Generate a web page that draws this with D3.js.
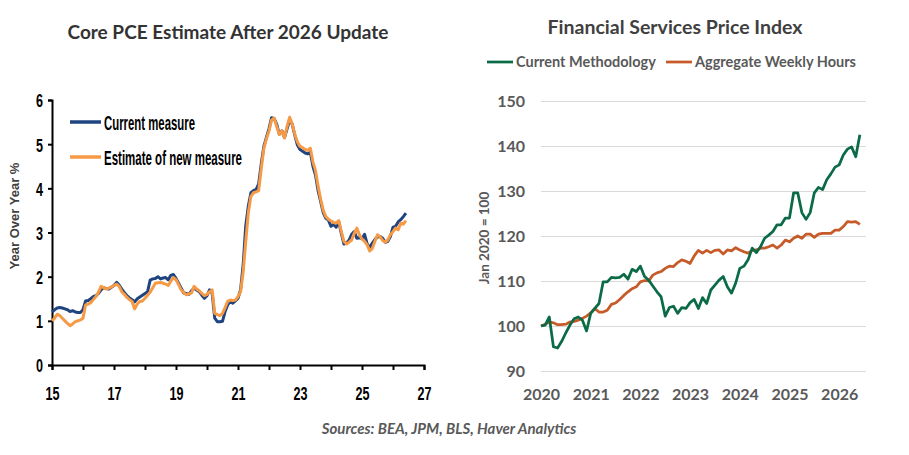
<!DOCTYPE html>
<html>
<head>
<meta charset="utf-8">
<script src="https://cdn.jsdelivr.net/npm/d3@7.9.0/dist/d3.min.js"></script>
<style>
  body { margin: 0; background: #fff; }
  svg { display: block; }
  .narrow { font-family: "Liberation Sans", Arial, sans-serif; font-weight: bold; }
  .calib { font-family: Lato, "Open Sans", sans-serif; font-weight: bold; }
</style>
</head>
<body>
<svg id="chart" width="909" height="455"></svg>
<script>
// Left panel: core PCE y/y %, monthly from Jan 2015
const pceStartYear = 15;
const pceCurrent = [
  1.20, 1.25, 1.29, 1.30, 1.29, 1.27, 1.25, 1.21, 1.23, 1.20, 1.19, 1.19,
  1.25, 1.45, 1.46, 1.50, 1.55, 1.57, 1.62, 1.70, 1.75, 1.73, 1.72, 1.76,
  1.80, 1.87, 1.81, 1.72, 1.64, 1.57, 1.52, 1.48, 1.43, 1.50, 1.54, 1.58,
  1.62, 1.66, 1.92, 1.95, 1.96, 2.00, 1.95, 1.97, 1.98, 1.93, 2.03, 2.05,
  1.96, 1.85, 1.74, 1.63, 1.62, 1.60, 1.68, 1.74, 1.70, 1.66, 1.58, 1.51,
  1.57, 1.70, 1.62, 1.06, 0.98, 0.98, 0.99, 1.21, 1.36, 1.44, 1.40, 1.45,
  1.51, 1.70, 2.27, 3.15, 3.60, 3.90, 3.95, 3.97, 4.10, 4.55, 4.95, 5.15,
  5.35, 5.60, 5.58, 5.45, 5.22, 5.30, 5.15, 5.35, 5.55, 5.45, 5.20, 4.98,
  4.88, 4.84, 4.80, 4.78, 4.82, 4.50, 4.30, 3.95, 3.70, 3.45, 3.32, 3.28,
  3.14, 3.18, 3.12, 3.24, 2.98, 2.74, 2.76, 2.83, 2.96, 3.02, 2.87, 2.88,
  2.86, 2.96, 2.74, 2.66, 2.76, 2.84, 2.90, 2.91, 2.87, 2.78, 2.80, 2.91,
  3.12, 3.14, 3.24, 3.29, 3.36, 3.44
];
const pceNew = [
  1.00, 1.06, 1.15, 1.12, 1.06, 1.00, 0.94, 0.89, 0.93, 0.98, 1.00, 1.02,
  1.06, 1.36, 1.38, 1.41, 1.48, 1.55, 1.65, 1.78, 1.75, 1.72, 1.74, 1.77,
  1.80, 1.83, 1.78, 1.66, 1.60, 1.53, 1.48, 1.44, 1.27, 1.38, 1.44, 1.45,
  1.51, 1.58, 1.65, 1.75, 1.85, 1.86, 1.87, 1.85, 1.83, 1.80, 1.90, 1.98,
  1.93, 1.82, 1.70, 1.64, 1.59, 1.61, 1.63, 1.78, 1.72, 1.68, 1.62, 1.57,
  1.60, 1.66, 1.70, 1.17, 1.14, 1.12, 1.17, 1.30, 1.44, 1.47, 1.46, 1.47,
  1.55, 1.66, 2.10, 2.80, 3.45, 3.82, 3.90, 3.92, 3.95, 4.45, 4.90, 5.12,
  5.30, 5.55, 5.59, 5.40, 5.22, 5.30, 5.14, 5.40, 5.61, 5.45, 5.22, 5.05,
  4.95, 4.92, 4.88, 4.86, 4.91, 4.60, 4.40, 4.05, 3.75, 3.50, 3.36, 3.30,
  3.26, 3.23, 3.21, 3.27, 3.02, 2.80, 2.74, 2.78, 2.83, 2.98, 3.10, 2.95,
  2.85, 2.80, 2.72, 2.58, 2.64, 2.80, 2.95, 2.90, 2.82, 2.78, 2.83, 2.95,
  3.02, 3.10, 3.06, 3.21, 3.19, 3.27
];
const pceYTicks = [0, 1, 2, 3, 4, 5, 6];
const pceXTicks = [15, 16, 17, 18, 19, 20, 21, 22, 23, 24, 25, 26, 27];
const pceXLabels = [15, 17, 19, 21, 23, 25, 27];
const pceSeries = ["Current measure", "Estimate of new measure"];

// Right panel: financial services price index, monthly from Jan 2020
const finStartYear = 2020;
const finCurrent = [
  100.0, 100.2, 102.0, 95.4, 95.1, 96.6, 98.5, 100.2, 101.6, 102.0, 101.3, 98.9,
  102.8, 103.9, 105.0, 109.8, 109.8, 110.8, 110.7, 110.8, 111.5, 110.4, 112.6, 112.1,
  113.3, 111.0, 110.2, 108.9, 107.6, 106.5, 102.2, 104.1, 104.4, 102.8, 104.1, 103.9,
  105.2, 105.9, 103.9, 106.3, 105.0, 108.0, 109.1, 110.2, 111.0, 108.7, 107.3, 109.5,
  112.8, 113.3, 114.7, 117.3, 116.3, 117.6, 119.5, 120.2, 121.0, 122.5, 122.5, 124.0,
  124.0, 129.6, 129.6, 125.2, 123.7, 125.2, 129.6, 130.8, 130.3, 132.5, 133.8, 135.3,
  135.8, 138.0, 139.3, 139.8, 137.6, 142.5
];
const finHours = [
  100.0, 100.4, 100.9, 100.7, 100.3, 100.3, 100.4, 100.9, 101.0, 101.3, 101.7, 102.2,
  102.9, 103.9, 103.1, 103.1, 103.5, 104.8, 105.1, 105.9, 106.8, 107.6, 108.3, 108.7,
  109.8, 110.1, 110.0, 111.3, 111.8, 112.1, 112.8, 113.3, 113.2, 114.1, 114.7, 114.4,
  113.9, 115.6, 116.8, 116.2, 116.8, 116.3, 116.8, 116.9, 116.0, 116.9, 116.7, 117.4,
  116.9, 116.5, 116.2, 116.8, 116.9, 117.3, 117.3, 117.6, 118.0, 117.3, 118.0, 119.1,
  118.7, 119.5, 120.0, 119.5, 120.4, 120.4, 119.7, 120.4, 120.6, 120.6, 120.6, 121.3,
  121.3, 122.1, 123.2, 123.1, 123.2, 122.6
];
const finYTicks = [90, 100, 110, 120, 130, 140, 150];
const finXTicks = [2020, 2021, 2022, 2023, 2024, 2025, 2026];
const finSeries = ["Current Methodology", "Aggregate Weekly Hours"];

const svg = d3.select("#chart");
svg.append("rect").attr("width", 909).attr("height", 455).attr("fill", "#fff");

// squeeze Arial-like text to look like Arial Narrow
function narrowText(sel, perChar) {
  sel.each(function () {
    const t = d3.select(this);
    const n = t.text().length;
    if (n) t.attr("textLength", n * perChar).attr("lengthAdjust", "spacingAndGlyphs");
  });
}

// ---------- left panel ----------
const lx = d3.scaleLinear().domain([15, 27]).range([52, 424]);
const ly = d3.scaleLinear().domain([0, 6]).range([365, 100]);
const left = svg.append("g");

left.append("text").attr("class", "calib")
  .attr("x", 228).attr("y", 39).attr("text-anchor", "middle")
  .attr("font-size", 19).attr("fill", "#333")
  .text("Core PCE Estimate After 2026 Update");

const lyAxis = left.append("g").attr("transform", "translate(52,0)")
  .call(d3.axisLeft(ly).tickValues(pceYTicks).tickSize(4).tickPadding(5).tickFormat(d3.format("d")));
const lxAxis = left.append("g").attr("transform", "translate(0,365)")
  .call(d3.axisBottom(lx).tickValues(pceXTicks).tickSize(5).tickPadding(17)
    .tickFormat(d => pceXLabels.includes(d) ? d : ""));
[lyAxis, lxAxis].forEach(a => {
  a.selectAll("path, line").attr("stroke", "#000").attr("stroke-width", 2);
  a.selectAll("text").attr("class", "narrow").attr("font-size", 19).attr("fill", "#000")
    .call(narrowText, 7);
});
lyAxis.selectAll("text").attr("dy", "0.36em");

left.append("text")
  .attr("transform", "translate(19,216) rotate(-90)")
  .attr("text-anchor", "middle").attr("font-size", 13).attr("fill", "#404040")
  .attr("font-family", "Liberation Sans, Arial, sans-serif").attr("font-weight", "bold")
  .text("Year Over Year %");

const pceLine = d3.line()
  .x((d, i) => lx(pceStartYear + i / 12))
  .y(d => ly(d));
const pceColors = ["#1f4480", "#f79a45"];
[pceCurrent, pceNew].forEach((s, k) => {
  left.append("path").datum(s).attr("d", pceLine)
    .attr("fill", "none").attr("stroke", pceColors[k])
    .attr("stroke-width", 3).attr("stroke-linejoin", "round");
});

const pceLegendWidth = [91, 138];
pceSeries.forEach((name, k) => {
  const yy = 122 + k * 35;
  left.append("line").attr("x1", 70).attr("x2", 101).attr("y1", yy).attr("y2", yy)
    .attr("stroke", pceColors[k]).attr("stroke-width", 3.5);
  left.append("text").attr("class", "narrow")
    .attr("x", 104).attr("y", yy + 8).attr("font-size", 21).attr("fill", "#000")
    .attr("textLength", pceLegendWidth[k]).attr("lengthAdjust", "spacingAndGlyphs")
    .text(name);
});

// ---------- right panel ----------
const rx = d3.scaleLinear().domain([2020, 2026.54]).range([541, 866]);
const ry = d3.scaleLinear().domain([90, 150]).range([371, 101]);
const right = svg.append("g");

right.append("text").attr("class", "calib")
  .attr("x", 675).attr("y", 34).attr("text-anchor", "middle")
  .attr("font-size", 19.5).attr("fill", "#404040")
  .text("Financial Services Price Index");

const ryAxis = right.append("g").attr("transform", "translate(541,0)")
  .call(d3.axisLeft(ry).tickValues(finYTicks).tickSize(-325).tickPadding(16));
ryAxis.select(".domain").remove();
ryAxis.selectAll("line").attr("stroke", "#d9d9d9").attr("stroke-width", 1);
ryAxis.selectAll("text").attr("class", "calib").attr("font-size", 16).attr("fill", "#595959");

const rxAxis = right.append("g").attr("transform", "translate(0,383)")
  .call(d3.axisBottom(rx).tickValues(finXTicks).tickSize(0).tickPadding(6).tickFormat(d3.format("d")));
rxAxis.select(".domain").remove();
rxAxis.selectAll("text").attr("class", "calib").attr("font-size", 16).attr("fill", "#595959");

right.append("text").attr("class", "calib")
  .attr("transform", "translate(489,238) rotate(-90)")
  .attr("text-anchor", "middle").attr("font-size", 13.5).attr("fill", "#595959")
  .text("Jan 2020 = 100");

const finLine = d3.line()
  .x((d, i) => rx(finStartYear + i / 12))
  .y(d => ry(d));
const finColors = ["#0b6b47", "#c65a28"];
[finHours, finCurrent].forEach((s, k) => {
  right.append("path").datum(s).attr("d", finLine)
    .attr("fill", "none").attr("stroke", finColors[1 - k])
    .attr("stroke-width", 2.75).attr("stroke-linejoin", "round");
});

const legX = [487, 666];
finSeries.forEach((name, k) => {
  right.append("line").attr("x1", legX[k]).attr("x2", legX[k] + 26).attr("y1", 62).attr("y2", 62)
    .attr("stroke", finColors[k]).attr("stroke-width", 2.75);
  right.append("text").attr("class", "calib")
    .attr("x", legX[k] + 29).attr("y", 66.5).attr("font-size", 14.5).attr("fill", "#595959")
    .text(name);
});

// sources
svg.append("text").attr("class", "calib")
  .attr("x", 449).attr("y", 434).attr("text-anchor", "middle")
  .attr("font-size", 15).attr("font-style", "italic").attr("fill", "#595959")
  .text("Sources: BEA, JPM, BLS, Haver Analytics");
</script>
</body>
</html>
